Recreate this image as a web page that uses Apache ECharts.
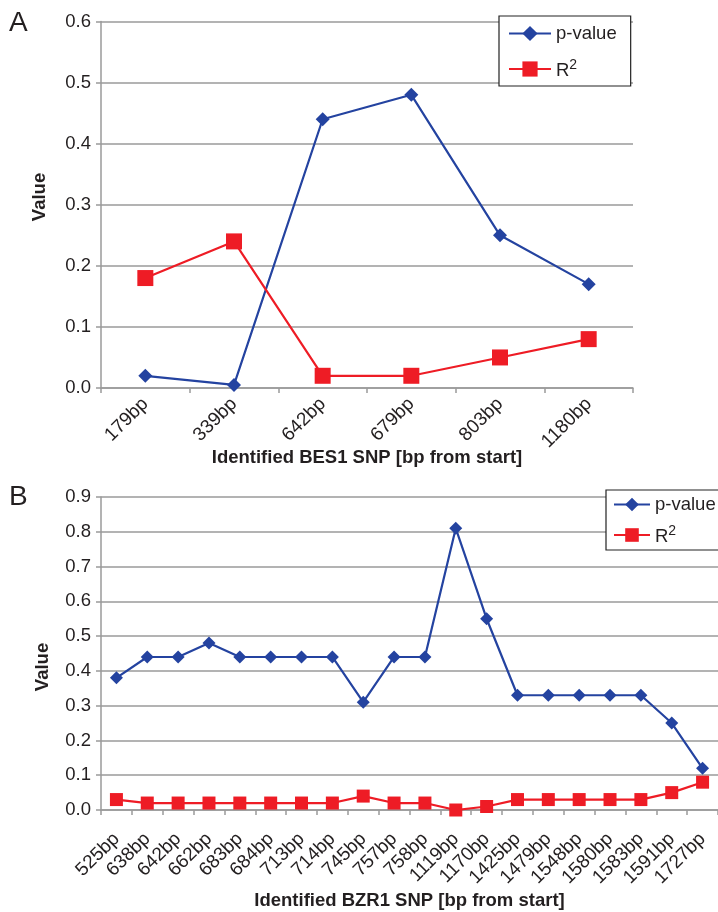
<!DOCTYPE html>
<html>
<head>
<meta charset="utf-8">
<script src="https://cdn.jsdelivr.net/npm/echarts@6/dist/echarts.min.js"></script>
<style>
html,body{margin:0;padding:0;background:#fff;}
#c{width:718px;height:912px;}
</style>
</head>
<body>
<div id="c"></div>
<script>
// ---- data ----
var catsA = ['179bp','339bp','642bp','679bp','803bp','1180bp'];
var pA = [0.02, 0.005, 0.44, 0.48, 0.25, 0.17];
var rA = [0.18, 0.24, 0.02, 0.02, 0.05, 0.08];

var catsB = ['525bp','638bp','642bp','662bp','683bp','684bp','713bp','714bp','745bp','757bp','758bp','1119bp','1170bp','1425bp','1479bp','1548bp','1580bp','1583bp','1591bp','1727bp'];
var pB = [0.38,0.44,0.44,0.48,0.44,0.44,0.44,0.44,0.31,0.44,0.44,0.81,0.55,0.33,0.33,0.33,0.33,0.33,0.25,0.12];
var rB = [0.03,0.02,0.02,0.02,0.02,0.02,0.02,0.02,0.04,0.02,0.02,0.00,0.01,0.03,0.03,0.03,0.03,0.03,0.05,0.08];

var nameP = 'p-value', nameR = 'R²';
var titleA = 'Identified BES1 SNP [bp from start]';
var titleB = 'Identified BZR1 SNP [bp from start]';
var yTitle = 'Value';

var FONT = '"Liberation Sans", Arial, Helvetica, sans-serif';
var BLUE = '#2443a0', RED = '#ee1c25', GRID = '#9a9a9a', TXT = '#231f20';

function xAxis(idx, cats, title, gap, margin) {
  return {
    type: 'category', gridIndex: idx, data: cats, boundaryGap: true,
    axisLine: {lineStyle: {color: GRID, width: 1.5}},
    axisTick: {show: true, length: 5, lineStyle: {color: GRID, width: 1.5}},
    axisLabel: {rotate: 45, margin: margin, fontSize: 19, color: TXT, fontFamily: FONT, interval: 0},
    name: title, nameLocation: 'middle', nameGap: gap, nameMoveOverlap: false,
    nameTextStyle: {fontSize: 18.5, fontWeight: 'bold', color: TXT, fontFamily: FONT}
  };
}
function yAxis(idx, max) {
  return {
    type: 'value', gridIndex: idx, min: 0, max: max, interval: 0.1,
    axisLine: {show: true, lineStyle: {color: GRID, width: 1.5}},
    axisTick: {show: true, length: 5, lineStyle: {color: GRID, width: 1.5}},
    splitLine: {show: true, lineStyle: {color: GRID, width: 1.5}},
    axisLabel: {margin: 10, fontSize: 18.5, color: TXT, fontFamily: FONT,
      formatter: function (v) { return v.toFixed(1); }}
  };
}
function legend(idx, left, top, itemW, itemH, gap, pad) {
  return {
    data: idx === 0 ? [nameP, nameR] : [nameP + ' ', nameR + ' '],
    orient: 'vertical', left: left, top: top,
    itemWidth: itemW, itemHeight: itemH, itemGap: gap, padding: pad,
    backgroundColor: '#fff', borderColor: '#222', borderWidth: 1.2, borderRadius: 0,
    textStyle: {fontSize: 18.5, color: TXT, fontFamily: FONT,
      rich: {
        r: {fontSize: 18.5, color: TXT, fontFamily: FONT, lineHeight: 22, verticalAlign: 'bottom'},
        s: {fontSize: 14, color: TXT, fontFamily: FONT, lineHeight: 12, verticalAlign: 'top'}
      }},
    formatter: function (n) { return n.trim() === nameR ? '{r|R}{s|2}' : n.trim(); }
  };
}
function line(name, xi, data, color, sym, size) {
  return {
    type: 'line', name: name, xAxisIndex: xi, yAxisIndex: xi, data: data,
    symbol: sym, symbolSize: size, showSymbol: true,
    lineStyle: {color: color, width: 2.2}, itemStyle: {color: color},
    emphasis: {disabled: true}, animation: false
  };
}
function vTitle(x, y) {
  return {type: 'text', x: x, y: y, rotation: Math.PI / 2,
    style: {text: yTitle, fontSize: 18.5, fontWeight: 'bold', fill: TXT, fontFamily: FONT,
      align: 'center', verticalAlign: 'middle'}};
}

var chart = echarts.init(document.getElementById('c'), null, {renderer: 'canvas'});
chart.setOption({
  animation: false,
  grid: [
    {left: 101, top: 21.5, width: 532, height: 366.5},
    {left: 101, top: 497, width: 620, height: 313}
  ],
  xAxis: [xAxis(0, catsA, titleA, 60, 13), xAxis(1, catsB, titleB, 81, 26)],
  yAxis: [yAxis(0, 0.6), yAxis(1, 0.9)],
  legend: [legend(0, 499, 16, 42, 19, 15, [8, 14, 6, 9]), legend(1, 606, 490, 36, 17, 10, [5, 14, 4, 7])],
  graphic: [
    {type: 'text', left: 9, top: 9, style: {text: 'A', fontSize: 28, fill: TXT, fontFamily: FONT}},
    {type: 'text', left: 9, top: 483, style: {text: 'B', fontSize: 28, fill: TXT, fontFamily: FONT}},
    vTitle(40, 197),
    vTitle(43, 667)
  ],
  series: [
    line(nameP, 0, pA, BLUE, 'diamond', 14),
    line(nameR, 0, rA, RED, 'rect', 16),
    line(nameP + ' ', 1, pB, BLUE, 'diamond', 13),
    line(nameR + ' ', 1, rB, RED, 'rect', 13)
  ]
});
</script>
</body>
</html>
